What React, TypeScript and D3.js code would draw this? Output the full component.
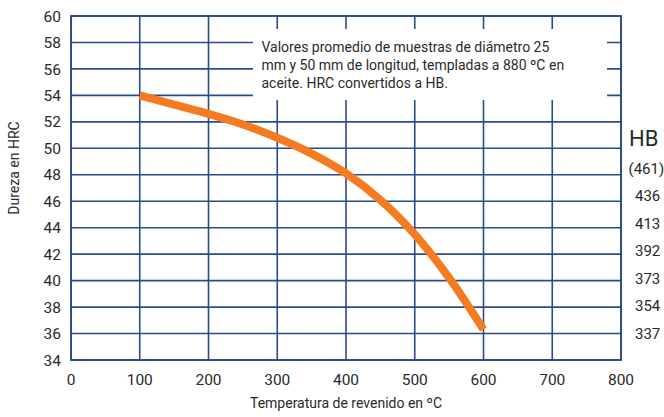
import React from "react";
import * as d3 from "d3";

const xTicks = [0, 100, 200, 300, 400, 500, 600, 700, 800];
const yTicks = [34, 36, 38, 40, 42, 44, 46, 48, 50, 52, 54, 56, 58, 60];
const temps = [100, 150, 200, 250, 300, 350, 400, 450, 500, 550, 600];
const hrc = [54.0, 53.3, 52.6, 51.8, 50.8, 49.6, 48.1, 46.1, 43.5, 40.2, 36.3];
const hbLabels = ["(461)", "436", "413", "392", "373", "354", "337"];
const noteLines = [
  "Valores promedio de muestras de diámetro 25",
  "mm y 50 mm de longitud, templadas a 880 ºC en",
  "aceite. HRC convertidos a HB.",
];

const W = 664;
const H = 417;
const left = 71;
const right = 621;
const top = 16;
const bottom = 360;
const grid = "#2B4A8A";
const txt = "#2a2a2a";
const font = "Roboto, 'Noto Sans', sans-serif";

export default function App() {
  const x = d3.scaleLinear().domain([0, 800]).range([left, right]);
  const y = d3.scaleLinear().domain([34, 60]).range([bottom, top]);
  const line = d3
    .line<number>()
    .x((_, i) => x(temps[i]))
    .y((d) => y(d))
    .curve(d3.curveCatmullRom.alpha(0.5));
  const path = line(hrc) || "";

  return (
    <svg
      width={W}
      height={H}
      style={{ position: "absolute", left: 0, top: 0, background: "#fff" }}
      fontFamily={font}
    >
      <rect x={0} y={0} width={W} height={H} fill="#fff" />
      {xTicks.map((t) => (
        <line key={"vx" + t} x1={x(t)} x2={x(t)} y1={top} y2={bottom} stroke={grid} strokeWidth={1.6} />
      ))}
      {yTicks.map((t) => (
        <line key={"hy" + t} x1={left} x2={right} y1={y(t)} y2={y(t)} stroke={grid} strokeWidth={1.6} />
      ))}
      <rect x={left} y={top} width={right - left} height={bottom - top} fill="none" stroke={grid} strokeWidth={1.8} />
      <rect x={253} y={29} width={354} height={71} fill="#fff" />
      {noteLines.map((s, i) => (
        <text key={"n" + i} x={261.5} y={51.7 + i * 18.3} fontSize={14} fill={txt}>
          {s}
        </text>
      ))}
      <path d={path} fill="none" stroke="#F47B20" strokeWidth={8} strokeLinecap="butt" />
      {yTicks.map((t) => (
        <text key={"yl" + t} x={61} y={y(t)} dy="0.36em" textAnchor="end" fontSize={15.5} fill={txt}>
          {t}
        </text>
      ))}
      {xTicks.map((t) => (
        <text key={"xl" + t} x={x(t)} y={385} textAnchor="middle" fontSize={15.5} fill={txt}>
          {t}
        </text>
      ))}
      <text x={346} y={408.3} textAnchor="middle" fontSize={14} fill={txt}>
        Temperatura de revenido en ºC
      </text>
      <text
        transform={`translate(19,168) rotate(-90)`}
        textAnchor="middle"
        fontSize={14}
        fill={txt}
      >
        Dureza en HRC
      </text>
      <text x={629} y={145.7} fontSize={22} fill={txt}>
        HB
      </text>
      {hbLabels.map((s, i) => (
        <text key={"hb" + i} x={i === 0 ? 628.5 : 635} y={168.3 + i * 27.5} dy="0.36em" fontSize={15} fill={txt}>
          {s}
        </text>
      ))}
    </svg>
  );
}
